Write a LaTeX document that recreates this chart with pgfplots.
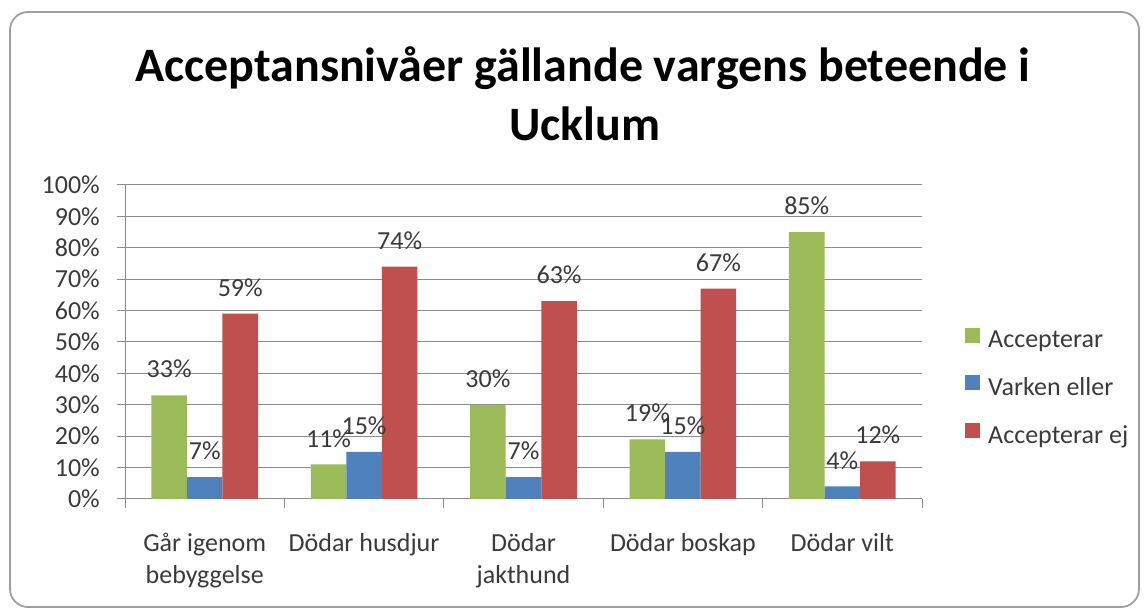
\documentclass[border=0pt]{standalone}
\usepackage{fontspec}
\setmainfont{Carlito}
\usepackage{pgfplots}
\pgfplotsset{compat=1.18}
\definecolor{cgreen}{HTML}{9BBB59}
\definecolor{cblue}{HTML}{4F81BD}
\definecolor{cred}{HTML}{C0504D}
\definecolor{gridc}{HTML}{8C8C8C}
\definecolor{txt}{HTML}{3A3A3A}
\begin{document}
\begin{tikzpicture}
\path[draw=none] (0pt,0pt) rectangle (1146pt,610pt);
\draw[draw=gray!75, line width=1.8pt, rounded corners=18pt] (10pt,3pt) rectangle (1139pt,598pt);
\node[font=\fontsize{48}{57}\selectfont\bfseries, anchor=base] at (583pt,528pt) {Acceptansnivåer gällande vargens beteende i};
\node[font=\fontsize{48}{57}\selectfont\bfseries, anchor=base] at (585pt,469pt) {Ucklum};
\begin{axis}[
  at={(125pt,111pt)}, anchor=south west, scale only axis,
  width=797pt, height=314pt,
  ybar, bar width=0.223,
  xmin=-0.5, xmax=4.5, ymin=0, ymax=100,
  ytick={0,10,...,100},
  yticklabel={\pgfmathprintnumber{\tick}\%},
  /pgf/number format/assume math mode=true,
  xtick={0,1,2,3,4},
  xticklabels={{Går igenom\\bebyggelse},{Dödar husdjur},{Dödar\\jakthund},{Dödar boskap},{Dödar vilt}},
  minor xtick={-0.5,0.5,1.5,2.5,3.5,4.5},
  axis lines=left,
  axis line style={draw=gridc, line width=1pt, -},
  ymajorgrids, grid style={draw=gridc, line width=1pt},
  tick align=outside, major tick length=8pt, minor tick length=9pt,
  major x tick style={draw=none},
  minor x tick style={draw=gridc, line width=1pt},
  ytick style={draw=gridc, line width=1pt},
  tick label style={font=\fontsize{26}{32}\selectfont, text=txt},
  yticklabel style={anchor=east, inner sep=0pt, xshift=-17pt},
  xticklabel style={align=center, anchor=north, inner sep=0pt, yshift=-26pt},
  nodes near coords={\pgfmathprintnumber{\pgfplotspointmeta}\%},
  every node near coord/.append style={font=\fontsize{26}{31}\selectfont, text=txt, anchor=south, inner sep=0pt, yshift=17pt},
  legend style={at={(rel axis cs:1.054,0.545)}, anchor=north west, draw=none, fill=none, inner sep=0pt, row sep=22pt,
    font=\fontsize{26}{31}\selectfont, text=txt,
    nodes={inner sep=0pt, text depth=6pt},
    /tikz/every odd column/.append style={column sep=8pt}},
  legend cell align=left,
  legend image code/.code={\fill[#1] (0pt,-1pt) rectangle (15pt,14pt);},
]
\addplot[fill=cgreen, draw=none, bar shift=-0.223] coordinates {(0,33) (1,11) (2,30) (3,19) (4,85)};
\addplot[fill=cblue, draw=none, bar shift=0] coordinates {(0,7) (1,15) (2,7) (3,15) (4,4)};
\addplot[fill=cred, draw=none, bar shift=0.223] coordinates {(0,59) (1,74) (2,63) (3,67) (4,12)};
\legend{Accepterar, Varken eller, Accepterar ej}
\end{axis}
\end{tikzpicture}
\end{document}
